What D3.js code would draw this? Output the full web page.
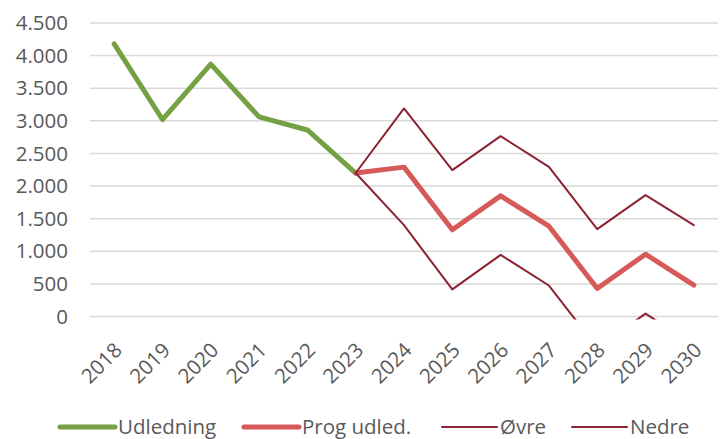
<!DOCTYPE html>
<html>
<head>
<meta charset="utf-8">
<script src="https://cdn.jsdelivr.net/npm/d3@7"></script>
<style>
  html, body { margin: 0; padding: 0; background: #fff; }
  svg { display: block; }
  text { font-family: "Open Sans", "Liberation Sans", sans-serif; fill: #595959; }
</style>
</head>
<body>
<svg id="chart" width="724" height="439"></svg>
<script>
// Years on the category axis
const years = ["2018","2019","2020","2021","2022","2023","2024","2025","2026","2027","2028","2029","2030"];

// Historic emissions (2018–2023)
const udledning = [4180, 3020, 3870, 3060, 2860, 2200, null, null, null, null, null, null, null];
// Projected emissions (2023–2030)
const progUdled = [null, null, null, null, null, 2200, 2290, 1330, 1850, 1385, 430, 955, 480];
// Upper bound of projection
const oevre = [null, null, null, null, null, 2200, 3190, 2245, 2765, 2295, 1340, 1860, 1400];
// Lower bound of projection
const nedre = [null, null, null, null, null, 2200, 1400, 415, 945, 475, -480, 45, -440];

// Value axis ticks
const yTicks = [0, 500, 1000, 1500, 2000, 2500, 3000, 3500, 4000, 4500];

const series = [
  { name: "Udledning",   values: udledning, color: "#75a044", width: 5 },
  { name: "Prog udled.", values: progUdled, color: "#d65a58", width: 5 },
  { name: "Øvre",        values: oevre,     color: "#8b2232", width: 2 },
  { name: "Nedre",       values: nedre,     color: "#8b2232", width: 2 }
];

const FONT = 20.5;
const svg = d3.select("#chart");
const plot = { left: 90, right: 718, top: 23, bottom: 316.5 };

const x = d3.scaleBand().domain(years).range([plot.left, plot.right]);
const y = d3.scaleLinear().domain([0, 4500]).range([plot.bottom, plot.top]);

// Horizontal gridlines
svg.append("g")
  .selectAll("line")
  .data(yTicks)
  .join("line")
  .attr("x1", plot.left)
  .attr("x2", plot.right)
  .attr("y1", d => y(d))
  .attr("y2", d => y(d))
  .attr("stroke", "#d9d9d9")
  .attr("stroke-width", 1.5);

// Value axis labels (thousands separated by ".")
const fmt = d3.formatLocale({ decimal: ",", thousands: ".", grouping: [3], currency: ["", " kr"] }).format(",d");
const yAxis = d3.axisLeft(y).tickValues(yTicks).tickFormat(fmt).tickSize(0).tickPadding(0);
svg.append("g")
  .attr("transform", `translate(68,0)`)
  .call(yAxis)
  .call(g => g.select(".domain").remove())
  .call(g => g.selectAll("text")
    .attr("font-size", FONT)
    .attr("fill", "#595959")
    .attr("font-family", "'Open Sans', sans-serif"));

// Category axis labels, rotated
const xAxis = d3.axisBottom(x).tickSize(0).tickPadding(0);
svg.append("g")
  .attr("transform", `translate(0,${plot.bottom})`)
  .call(xAxis)
  .call(g => g.select(".domain").remove())
  .call(g => g.selectAll("text")
    .attr("font-size", FONT)
    .attr("fill", "#595959")
    .attr("font-family", "'Open Sans', sans-serif")
    .attr("text-anchor", "end")
    .attr("dy", "0.35em")
    .attr("transform", "translate(4,30) rotate(-45)"));

// Clip lines to the plot area
svg.append("clipPath").attr("id", "plotClip")
  .append("rect")
  .attr("x", plot.left).attr("y", 0)
  .attr("width", plot.right - plot.left)
  .attr("height", plot.bottom + 3);

const line = d3.line()
  .defined(d => d != null)
  .x((d, i) => x(years[i]) + x.bandwidth() / 2)
  .y(d => y(d));

svg.append("g")
  .attr("clip-path", "url(#plotClip)")
  .selectAll("path")
  .data(series)
  .join("path")
  .attr("d", s => line(s.values))
  .attr("fill", "none")
  .attr("stroke", s => s.color)
  .attr("stroke-width", s => s.width)
  .attr("stroke-linejoin", "round")
  .attr("stroke-linecap", "round");

// Legend
const legendX = [60, 244, 442, 572];
const legend = svg.append("g").attr("transform", "translate(0,427)");
const items = legend.selectAll("g")
  .data(series)
  .join("g")
  .attr("transform", (d, i) => `translate(${legendX[i]},0)`);
items.append("line")
  .attr("x1", 0).attr("x2", 55)
  .attr("y1", 0).attr("y2", 0)
  .attr("stroke", d => d.color)
  .attr("stroke-width", d => d.width)
  .attr("stroke-linecap", "round");
items.append("text")
  .attr("x", 58)
  .attr("dy", "0.35em")
  .attr("font-size", FONT)
  .text(d => d.name);
</script>
</body>
</html>
